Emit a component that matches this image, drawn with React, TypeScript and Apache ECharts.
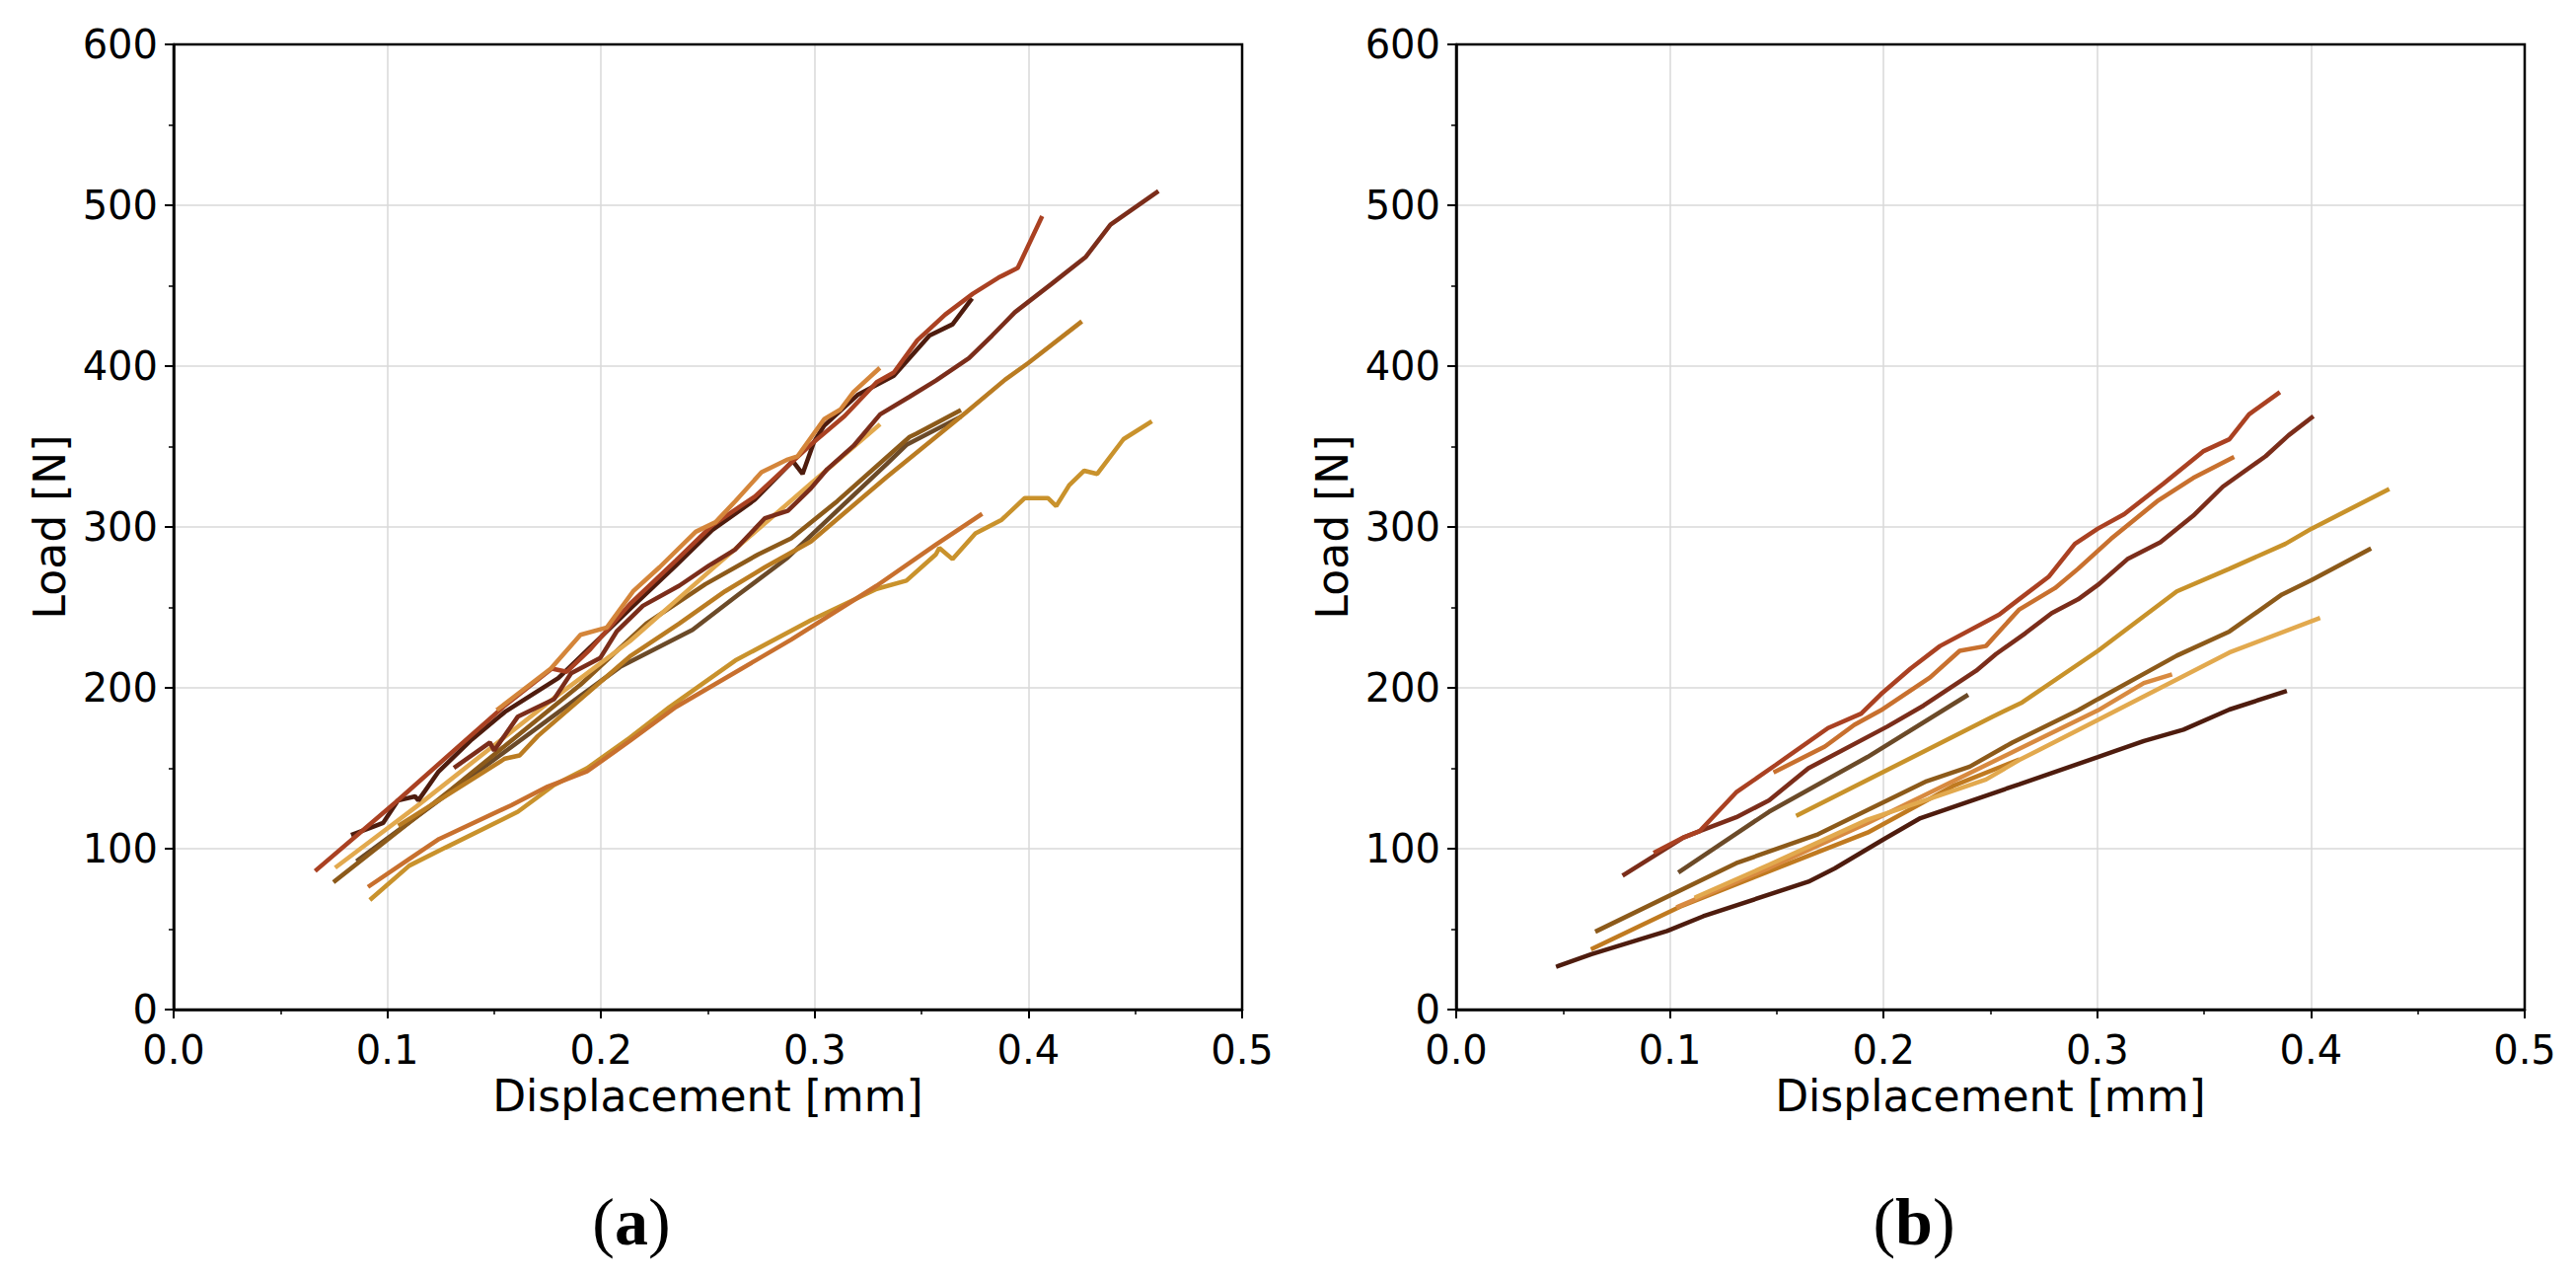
import React, { useEffect, useRef } from "react";
import * as echarts from "echarts";

// ---------- axis ranges / ticks ----------
const X_MIN = 0;
const X_MAX = 0.5;
const X_STEP = 0.1;
const Y_MIN = 0;
const Y_MAX = 600;
const Y_STEP = 100;

const X_LABEL = "Displacement [mm]";
const Y_LABEL = "Load [N]";
const CAPTIONS = ["a", "b"];

// ---------- panel (a) curves: [displacement mm, load N] ----------
const a1 = [[0.067,87],[0.104,129],[0.132,162],[0.155,189],[0.177,212],[0.184,210],[0.195,224],[0.2135,252],[0.235,279],[0.252,301],[0.272,319],[0.298,351],[0.314,369],[0.329,390],[0.337,396],[0.348,416],[0.361,432],[0.374,445],[0.386,455],[0.395,461],[0.406,492]];
const a2 = [[0.132,151],[0.148,166],[0.150,161],[0.161,182],[0.178,193],[0.186,209],[0.1996,218.5],[0.2073,235],[0.2196,251],[0.2366,263.5],[0.2505,276],[0.2628,286],[0.2767,305.5],[0.2874,310],[0.2982,324],[0.3059,336],[0.3182,350.5],[0.3306,370],[0.3444,381],[0.3567,391],[0.3722,405],[0.383,419],[0.3937,433.5],[0.4107,451],[0.4269,468],[0.4384,488],[0.46,508]];
const a3 = [[0.084,109],[0.092,113],[0.098,116],[0.105,130],[0.113,132.5],[0.1145,130],[0.124,148],[0.1396,168],[0.155,185],[0.18,206],[0.2135,249],[0.235,276],[0.252,298],[0.272,317],[0.2897,341],[0.2943,333],[0.2997,353],[0.3044,363],[0.32,382],[0.337,394],[0.3537,419],[0.3645,426],[0.373,441]];
const a4 = [[0.152,187],[0.1765,212],[0.1904,233],[0.2027,237.5],[0.215,260],[0.2274,275],[0.2443,297],[0.2536,303],[0.2628,316],[0.2751,334],[0.2874,342],[0.292,344],[0.3044,367],[0.312,373],[0.3182,384],[0.3297,398]];
const a5 = [[0.0764,89],[0.1134,126],[0.1774,193],[0.2135,229],[0.2521,274],[0.2982,327],[0.3298,363]];
const a6 = [[0.106,115],[0.155,156],[0.1619,158],[0.1704,170],[0.2135,219.5],[0.2366,240],[0.258,260],[0.2767,275],[0.2982,291],[0.3336,331],[0.3706,371],[0.389,391.5],[0.4,402],[0.4242,427]];
const a7 = [[0.0756,80],[0.13,137],[0.1904,202],[0.2212,240],[0.2489,264.5],[0.2736,283],[0.289,293],[0.3105,316],[0.3444,356],[0.3475,358],[0.3675,372]];
const a8 = [[0.0864,93],[0.1904,195],[0.2089,213],[0.2428,236],[0.2643,258],[0.2874,281],[0.3136,314],[0.3336,339],[0.3429,351],[0.3675,368]];
const a9 = [[0.0926,69],[0.1103,89.5],[0.1272,100.7],[0.1611,123],[0.178,139.6],[0.1934,150],[0.2135,169],[0.232,188],[0.2628,217],[0.2982,242],[0.329,261.5],[0.3429,266.6],[0.3567,283],[0.3583,287],[0.3645,280],[0.3752,296],[0.3875,304.5],[0.3983,318],[0.4091,318],[0.413,313],[0.4191,326],[0.4261,335],[0.4322,333],[0.4445,354.6],[0.4569,365]];
const a10 = [[0.0918,77],[0.1103,93.6],[0.1242,106],[0.158,127],[0.175,138.6],[0.1934,148],[0.2135,167],[0.235,188],[0.289,230],[0.329,263.5],[0.3567,289],[0.3775,307.5]];

// ---------- panel (b) curves ----------
const b1 = [[0.0477,27],[0.0633,34.4],[0.0987,48.8],[0.1156,58],[0.1648,79.5],[0.1771,87.7],[0.2002,106],[0.2172,119],[0.2633,140],[0.3003,157],[0.3218,167],[0.3403,174],[0.3618,186.5],[0.3877,197.7]];
const b2 = [[0.0933,98],[0.1064,107],[0.114,111],[0.131,135],[0.1494,152],[0.174,175],[0.1895,184],[0.1987,196],[0.2126,212],[0.2264,226],[0.2541,245.5],[0.2633,255],[0.2772,269],[0.2895,289.5],[0.3003,299],[0.3126,308],[0.331,327],[0.3495,347],[0.3618,354.5],[0.371,370],[0.3846,383]];
const b3 = [[0.0787,84],[0.1064,107],[0.114,111],[0.131,119.5],[0.1464,130],[0.1648,150],[0.2018,176],[0.2187,189],[0.2433,210.6],[0.2526,221],[0.2664,234],[0.2787,246.5],[0.291,255],[0.3003,264],[0.3141,280],[0.3295,290.5],[0.3449,307],[0.3587,325],[0.3788,344],[0.3895,357],[0.4003,368]];
const b4 = [[0.1494,148],[0.1725,163.5],[0.1863,177],[0.1987,186],[0.2218,206.5],[0.2356,223],[0.2479,226],[0.2633,248.5],[0.2802,262],[0.291,274],[0.3064,292.6],[0.328,316],[0.3449,330.5],[0.3631,343]];
const b5 = [[0.1048,86],[0.1464,123],[0.1925,157],[0.2387,195]];
const b6 = [[0.16,121],[0.251,182],[0.2649,191],[0.3003,223],[0.3372,260],[0.3618,274],[0.388,289.5],[0.4003,299],[0.4357,323]];
const b7 = [[0.066,49],[0.131,91],[0.1694,109],[0.2202,142],[0.2403,151],[0.2602,166],[0.291,186],[0.3003,193],[0.3372,220],[0.3618,235],[0.3864,258],[0.4003,267],[0.4272,286]];
const b8 = [[0.1125,70],[0.1464,90],[0.1925,118],[0.2172,129],[0.2479,143],[0.2633,155],[0.3003,180],[0.3618,222],[0.4033,243]];
const b9 = [[0.064,38],[0.1048,64],[0.1464,86],[0.1925,110],[0.2325,139],[0.2626,155]];
const b10 = [[0.104,64],[0.1464,88],[0.1925,116],[0.251,154],[0.2602,160],[0.3003,186],[0.3218,203],[0.334,208]];

// draw order (later = on top)
const PANEL_A_CURVES = [a9, a10, a8, a7, a6, a5, a2, a3, a1, a4];
const PANEL_A_COLORS = ["#c9922c", "#c8702e", "#6b4a28", "#8c5a1a", "#ba7c22", "#e2a94e", "#7b2d1a", "#4e1c0e", "#aa4122", "#d4853a"];
const PANEL_B_CURVES = [b1, b9, b10, b8, b7, b6, b5, b4, b3, b2];
const PANEL_B_COLORS = ["#4e1c0e", "#c07a20", "#d88a40", "#e2a94e", "#8c5a1a", "#c8922a", "#6b4a28", "#c8702e", "#7b2d1a", "#aa4122"];

const FONT = "DejaVu Sans";

export default function App() {
  const ref = useRef<HTMLDivElement>(null);

  useEffect(() => {
    document.body.style.margin = "0";
    if (!ref.current) return;
    const chart = echarts.init(ref.current, undefined, { renderer: "svg" });

    const grids = [
      { left: 176, top: 45, width: 1083, height: 978 },
      { left: 1476, top: 45, width: 1083, height: 978 },
    ].map((g) => ({ ...g, show: true, borderColor: "#000", borderWidth: 2.5, backgroundColor: "transparent", z: 5 }));

    const xAxis = [0, 1].map((i) => ({
      type: "value",
      gridIndex: i,
      min: X_MIN,
      max: X_MAX,
      interval: X_STEP,
      name: X_LABEL,
      nameLocation: "middle",
      nameGap: 62,
      nameTextStyle: { fontFamily: FONT, fontSize: 44, color: "#000" },
      axisLine: { show: true, onZero: false, lineStyle: { color: "#000", width: 2.5 } },
      axisTick: { show: true, length: 9, lineStyle: { color: "#000", width: 2 } },
      minorTick: { show: true, splitNumber: 2, length: 5, lineStyle: { color: "#000", width: 1.5 } },
      axisLabel: { fontFamily: FONT, fontSize: 40, lineHeight: 32, color: "#000", margin: 25, formatter: (v: number) => v.toFixed(1) },
      splitLine: { show: true, showMinLine: false, showMaxLine: false, lineStyle: { color: "#d9d9d9", width: 1.5 } },
    }));

    const yAxis = [0, 1].map((i) => ({
      type: "value",
      gridIndex: i,
      min: Y_MIN,
      max: Y_MAX,
      interval: Y_STEP,
      name: Y_LABEL,
      nameLocation: "middle",
      nameGap: 104,
      nameTextStyle: { fontFamily: FONT, fontSize: 44, color: "#000" },
      axisLine: { show: true, onZero: false, lineStyle: { color: "#000", width: 2.5 } },
      axisTick: { show: true, length: 9, lineStyle: { color: "#000", width: 2 } },
      minorTick: { show: true, splitNumber: 2, length: 5, lineStyle: { color: "#000", width: 1.5 } },
      axisLabel: { fontFamily: FONT, fontSize: 40, lineHeight: 32, color: "#000", margin: 16 },
      splitLine: { show: true, showMinLine: false, showMaxLine: false, lineStyle: { color: "#d9d9d9", width: 1.5 } },
    }));

    const mk = (curves: number[][][], colors: string[], idx: number) =>
      curves.map((data, k) => ({
        type: "line",
        xAxisIndex: idx,
        yAxisIndex: idx,
        data,
        showSymbol: false,
        symbol: "none",
        lineStyle: { color: colors[k], width: 4.5, cap: "square" },
        itemStyle: { color: colors[k] },
        z: 3 + k * 0.01,
      }));

    const captionX = [640, 1940];
    const graphic = CAPTIONS.map((c, i) => ({
      type: "text",
      x: captionX[i],
      y: 1238,
      style: {
        text: `{p|(}{b|${c}}{p|)}`,
        align: "center",
        verticalAlign: "middle",
        rich: {
          p: { fontFamily: "Liberation Serif", fontSize: 68, fill: "#000", color: "#000" },
          b: { fontFamily: "Liberation Serif", fontSize: 68, fontWeight: "bold", fill: "#000", color: "#000" },
        },
      },
    }));

    chart.setOption({
      animation: false,
      backgroundColor: "#fff",
      grid: grids,
      xAxis,
      yAxis,
      series: [...mk(PANEL_A_CURVES, PANEL_A_COLORS, 0), ...mk(PANEL_B_CURVES, PANEL_B_COLORS, 1)],
      graphic,
    });

    return () => chart.dispose();
  }, []);

  return <div ref={ref} style={{ width: 2611, height: 1294 }} />;
}
